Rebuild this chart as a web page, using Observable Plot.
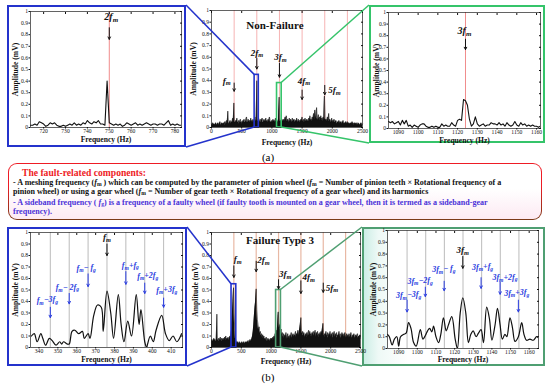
<!DOCTYPE html>
<html><head><meta charset="utf-8">
<script src="https://cdn.jsdelivr.net/npm/d3@7"></script>
<script src="https://cdn.jsdelivr.net/npm/@observablehq/plot@0.6"></script>
<style>
body{margin:0;background:#fff;}
#page{position:relative;width:550px;height:387px;overflow:hidden;font-family:"Liberation Serif","Times New Roman",serif;}
.box{position:absolute;box-sizing:border-box;}
.cap{position:absolute;font-size:11px;width:40px;text-align:center;line-height:12px;}
#note{position:absolute;left:8px;top:163px;width:534px;height:57px;box-sizing:border-box;border:1.6px solid transparent;border-radius:9px;
 background:linear-gradient(#ffffff,#ffffff 45%,#fdeaf3) padding-box, linear-gradient(#ee1c25,#ee1c25 40%,#7a3a18) border-box;}
.ln{position:absolute;white-space:nowrap;font-weight:bold;font-size:8.05px;line-height:10px;left:4px;color:#111;}
.ln sub{font-size:70%;vertical-align:-0.25em;line-height:0;}
.bl{color:#4b32d8;}
.rd{color:#ee1c25;font-size:9.6px;left:13px;}
</style></head><body><div id="page"></div>
<script>
// ---------- data ----------
const ampTicks = [0, 0.1, 0.2, 0.3, 0.4, 0.5, 0.6, 0.7, 0.8, 0.9, 1];
const midTicks = [0, 500, 1000, 1500, 2000, 2500];
const fmHarmonics = [375, 750, 1125, 1500, 1875, 2250];

// Non-failure full spectrum, 10 Hz bins from 0 Hz
const topMidStep = 10;
const topMidAmp = [
 .03,.02,.04,.02,.03,.03,.02,.04,.03,.02,
 .03,.04,.02,.03,.05,.03,.02,.04,.03,.03,
 .04,.03,.05,.02,.04,.06,.03,.14,.05,.03,
 .04,.06,.03,.05,.04,.08,.04,.21,.05,.04,
 .06,.04,.08,.05,.04,.06,.03,.05,.07,.04,
 .05,.03,.06,.04,.07,.05,.04,.06,.09,.05,
 .04,.07,.05,.06,.04,.08,.05,.06,.04,.07,
 .05,.06,.09,.05,.07,.40,.06,.05,.08,.04,
 .05,.07,.04,.06,.08,.05,.04,.07,.05,.06,
 .08,.05,.06,.04,.07,.05,.09,.06,.04,.05,
 .06,.04,.07,.05,.06,.04,.08,.05,.06,.04,
 .05,.07,.26,.08,.05,.06,.04,.07,.05,.06,
 .07,.05,.09,.06,.10,.05,.07,.06,.04,.08,
 .05,.07,.06,.04,.08,.05,.06,.07,.04,.06,
 .05,.08,.06,.04,.07,.05,.06,.04,.07,.05,
 .09,.05,.06,.07,.04,.08,.05,.06,.07,.05,
 .06,.08,.05,.10,.06,.07,.05,.09,.06,.12,
 .08,.15,.07,.10,.17,.08,.06,.11,.07,.09,
 .06,.10,.07,.08,.05,.09,.06,.27,.08,.06,
 .07,.05,.09,.06,.12,.05,.07,.06,.04,.08,
 .05,.06,.04,.07,.05,.04,.06,.05,.03,.05,
 .04,.06,.03,.05,.04,.05,.03,.04,.06,.03,
 .04,.03,.05,.04,.03,.05,.04,.03,.04,.03,
 .03,.04,.03,.05,.03,.04,.02,.04,.03,.03,
 .04,.03,.02,.04,.03,.03,.02,.03,.04,.02,
 .03];

// Failure type 3 full spectrum, 10 Hz bins from 0 Hz
const botMidStep = 10;
const botMidAmp = [
 .05,.07,.06,.05,.08,.06,.07,.05,.06,.29,
 .07,.06,.08,.05,.07,.09,.06,.08,.05,.07,
 .08,.06,.09,.07,.10,.06,.08,.07,.09,.06,
 .08,.10,.07,.12,.18,.28,.40,.52,.30,.15,
 .08,.06,.05,.04,.05,.04,.03,.05,.04,.03,
 .04,.05,.03,.04,.05,.04,.03,.05,.04,.05,
 .04,.05,.06,.04,.05,.07,.05,.06,.08,.10,
 .14,.20,.28,.35,.40,.51,.33,.24,.20,.15,
 .18,.12,.14,.10,.12,.09,.11,.08,.10,.07,
 .08,.06,.09,.07,.05,.08,.06,.07,.05,.08,
 .06,.08,.07,.09,.06,.10,.08,.12,.10,.15,
 .12,.20,.31,.22,.17,.20,.14,.16,.11,.13,
 .09,.12,.08,.11,.09,.13,.07,.10,.12,.08,
 .10,.07,.11,.09,.13,.08,.10,.12,.09,.11,
 .10,.14,.09,.12,.11,.15,.10,.13,.16,.20,
 .26,.15,.12,.14,.10,.13,.11,.09,.12,.10,
 .13,.09,.12,.15,.10,.14,.11,.12,.09,.13,
 .11,.14,.10,.12,.15,.09,.13,.11,.14,.10,
 .12,.09,.13,.10,.14,.12,.16,.21,.13,.10,
 .12,.09,.14,.11,.10,.13,.08,.12,.10,.14,
 .09,.12,.10,.13,.08,.11,.14,.09,.12,.10,
 .13,.08,.11,.10,.14,.09,.12,.10,.08,.13,
 .10,.12,.09,.11,.13,.08,.10,.12,.09,.11,
 .08,.12,.10,.09,.13,.10,.08,.11,.09,.12,
 .10,.08,.11,.09,.10,.12,.08,.10,.09,.11,
 .08];

// Zoom around 2fm (non-failure), 1 Hz bins from 714 Hz
const topLeftStart = 714;
const topLeftAmp = [
 .02,.02,.03,.02,.05,.04,.03,.01,.02,.04,
 .03,.04,.02,.01,.01,.02,.01,.02,.03,.02,
 .04,.02,.03,.02,.04,.03,.06,.04,.03,.05,
 .04,.06,.03,.03,.02,.40,.04,.03,.02,.03,
 .02,.03,.01,.02,.04,.03,.02,.03,.04,.02,
 .03,.02,.03,.04,.03,.02,.03,.03,.02,.03,
 .03,.02,.04,.06,.02,.03,.02,.03,.02,.02];
const topLeftTicks = [720, 730, 740, 750, 760, 770, 780];

// Zoom around 3fm (non-failure), 1 Hz bins from 1085 Hz
const topRightStart = 1085;
const topRightAmp = [
 .06,.05,.06,.04,.05,.06,.03,.07,.04,.07,
 .02,.03,.01,.03,.02,.01,.03,.04,.04,.02,
 .01,.01,.02,.01,.02,.01,.01,.04,.02,.03,
 .02,.02,.05,.03,.02,.07,.08,.07,.25,.24,
 .20,.08,.02,.04,.10,.04,.02,.03,.04,.02,
 .03,.03,.05,.04,.04,.03,.05,.03,.04,.02,
 .05,.03,.02,.03,.06,.03,.02,.05,.03,.04,
 .02,.03,.02,.03,.02,.02,.01,.02];
const zoomTicks3 = [1090, 1100, 1110, 1120, 1130, 1140, 1150, 1160];

// Zoom around fm (failure type 3)
const botLeftFreq = [336,337.5,339,341,342,343.5,345.5,347,349,351,352,353,355,356,357.5,359,361,363,364,366,367,369,371,373,374,376,378,379.5,382,383.5,385,387,389,391.5,393,394,396,397,397.5,399,400.5,402,405,407,409,411,413,415.5];
const botLeftAmp  = [.10,.12,.05,.12,.08,.02,.08,.06,.02,.05,.03,.05,.03,.03,.14,.15,.12,.14,.08,.12,.08,.28,.37,.35,.14,.49,.30,.08,.46,.20,.05,.23,.10,.46,.20,.33,.05,.00,.03,.10,.05,.15,.28,.12,.06,.10,.05,.12];
const botLeftTicks = [340, 350, 360, 370, 380, 390, 400, 410];
const botLeftSidebands = [346, 356, 366, 376, 386, 396, 406];

// Zoom around 3fm (failure type 3)
const botRightFreq = [1084,1085,1086.5,1087.7,1089,1090,1091,1092.7,1094,1095.3,1096.6,1098,1099.4,1101.6,1103,1104.3,1105.5,1106.6,1107.8,1108.7,1110,1111.4,1112.6,1114,1115.5,1116.7,1118.5,1120.3,1121.5,1123,1124.4,1126,1127.4,1128.7,1130,1131.5,1132.8,1134.2,1135.5,1137.2,1138.7,1140,1141.7,1143,1144.4,1145.6,1147,1148,1149.7,1151,1152.4,1154.2,1156,1157.2,1158.6,1160.4,1162.2,1164,1165];
const botRightAmp  = [.12,.10,.03,.08,.10,.02,.10,.12,.13,.22,.17,.05,.02,.16,.08,.11,.15,.17,.14,.19,.10,.05,.12,.26,.15,.20,.27,.08,.00,.30,.43,.30,.05,.12,.15,.10,.13,.16,.05,.35,.25,.07,.20,.34,.20,.08,.12,.10,.26,.18,.06,.10,.22,.12,.07,.08,.07,.10,.09];
const botRightSidebands = [1094.5, 1104.5, 1114.5, 1124.5, 1134.5, 1144.5, 1154.5];

// zoom windows shown on the full spectra [x1, x2, top]
const topBlueWin = [714, 783, 0.45];
const topGreenWin = [1085, 1162, 0.38];
const botBlueWin = [336, 416, 0.55];
const botGreenWin = [1084, 1165, 0.50];

// annotations
const topMidLab = ["f_m", "2f_m", "3f_m", "4f_m", "5f_m"];
const topMidLabX = [253, 752, 1140, 1530, 2035];
const topMidLabY = [0.40, 0.64, 0.60, 0.40, 0.32];
const topMidArrX = [375, 750, 1125, 1500, 1875];
const topMidArrY1 = [0.38, 0.59, 0.55, 0.32, 0.36];
const topMidArrY2 = [0.31, 0.50, 0.43, 0.24, 0.28];

const botMidLab = ["f_m", "2f_m", "3f_m", "4f_m", "5f_m"];
const botMidLabX = [440, 871, 1236, 1630, 2023];
const botMidLabY = [0.77, 0.76, 0.64, 0.61, 0.52];
const botMidArrX = [375, 750, 1125, 1500, 1875];
const botMidArrY1 = [0.71, 0.75, 0.59, 0.58, 0.56];
const botMidArrY2 = [0.61, 0.66, 0.51, 0.47, 0.48];

const blLabBlack = ["f_m"];
const blLabBlackX = [376]; const blLabBlackY = [0.96];
const blArrBlackY = [0.90, 0.80];
const blLab = ["f_m−3f_g", "f_m− 2f_g", "f_m− f_g", "f_m+f_g", "f_m+2f_g", "f_m+3f_g"];
const blLabX = [344.4, 355, 365, 388.4, 397.6, 407.7];
const blLabY = [0.41, 0.52, 0.69, 0.71, 0.62, 0.50];
const blArrX = [346, 356, 366, 386, 396, 406];
const blArrY1 = [0.35, 0.47, 0.64, 0.66, 0.56, 0.43];
const blArrY2 = [0.26, 0.38, 0.53, 0.55, 0.47, 0.35];

const brLabBlack = ["3f_m"];
const brLabBlackX = [1124.4]; const brLabBlackY = [0.83];
const brArrBlackY = [0.78, 0.68];
const brLab = ["3f_m−3f_g", "3f_m−2f_g", "3f_m− f_g", "3f_m+f_g", "3f_m+2f_g", "3f_m+3f_g"];
const brLabX = [1095.3, 1101.5, 1114.2, 1135, 1147, 1153.3];
const brLabY = [0.45, 0.57, 0.67, 0.69, 0.60, 0.47];
const brArrX = [1094.5, 1104.3, 1114.4, 1134.2, 1144.4, 1154.2];
const brArrY1 = [0.41, 0.52, 0.57, 0.60, 0.56, 0.41];
const brArrY2 = [0.31, 0.44, 0.49, 0.51, 0.46, 0.31];

// ---------- colours ----------
const BLUE = "#2433cc", GREEN = "#35c46a", GREEN2 = "#4f9f72", ABLUE = "#2a3de0";

// ---------- helpers ----------
const page = document.getElementById("page");
function box(l, t, w, h, border, bg) {
  const d = document.createElement("div");
  d.className = "box";
  Object.assign(d.style, {left: l + "px", top: t + "px", width: w + "px", height: h + "px", border: "2px solid " + border, background: bg || "transparent"});
  page.appendChild(d);
}
function put(svg, l, t) {
  svg.style.position = "absolute"; svg.style.left = l + "px"; svg.style.top = t + "px";
  page.appendChild(svg);
  subify(svg);
  return svg;
}
function subify(svg) {
  const els = [...svg.querySelectorAll("text, tspan")].filter(e => e.children.length === 0 && e.textContent.includes("_"));
  for (const el of els) {
    const parts = el.textContent.split(/(_\w)/).filter(p => p.length);
    el.textContent = "";
    let shifted = false;
    for (const p of parts) {
      const ts = document.createElementNS("http://www.w3.org/2000/svg", "tspan");
      if (p[0] === "_") {
        ts.textContent = p.slice(1);
        ts.setAttribute("font-size", "70%");
        ts.setAttribute("dy", "0.3em");
        shifted = true;
      } else {
        ts.textContent = p;
        if (shifted) { ts.setAttribute("dy", "-0.3em"); shifted = false; }
      }
      el.appendChild(ts);
    }
  }
}
function annots(lab, lx, ly, ax, ay1, ay2, color, fs) {
  const L = lab.map((t, i) => ({t, x: lx[i], y: ly[i]}));
  const A = ax.map((x, i) => ({x, y1: ay1[i], y2: ay2[i]}));
  return [
    Plot.arrow(A, {x1: "x", x2: "x", y1: "y1", y2: "y2", stroke: color, strokeWidth: 1, headLength: 4, headAngle: 55}),
    Plot.text(L, {x: "x", y: "y", text: "t", fill: color, fontSize: fs, fontStyle: "italic", fontWeight: "bold"})
  ];
}
function panel(o) {
  return Plot.plot({
    width: o.w, height: o.h, marginLeft: o.ml, marginRight: o.mr, marginTop: o.mt, marginBottom: o.mb,
    x: {domain: o.xd}, y: {domain: [0, 1]},
    style: {fontFamily: "Liberation Serif, serif", fontSize: "5.6px", background: "transparent", overflow: "visible", color: "#111"},
    marks: [
      Plot.frame({fill: "white", stroke: null}),
      ...o.marks,
      Plot.frame({stroke: "#222", strokeWidth: 0.7}),
      Plot.axisX({ticks: o.xt, tickSize: 1.5, tickPadding: 0.5, label: null, tickFormat: d => String(d)}),
      Plot.axisX({ticks: o.xt, anchor: "top", tickSize: -2, label: null, tickFormat: () => ""}),
      Plot.axisY({ticks: ampTicks, tickSize: 1.5, tickPadding: 1, label: null, tickFormat: d => String(d)}),
      Plot.axisY({ticks: ampTicks, anchor: "right", tickSize: -2, label: null, tickFormat: () => ""}),
      Plot.text(["Frequency (Hz)"], {frameAnchor: "bottom", lineAnchor: "middle", textAnchor: "middle", dy: o.xl, fontWeight: "bold", fontSize: 7.6}),
      Plot.text(["Amplitude (mV)"], {frameAnchor: "left", lineAnchor: "middle", textAnchor: "middle", dx: o.yl, rotate: -90, fontWeight: "bold", fontSize: 7.6})
    ]
  });
}
function winRect(win, color) {
  return Plot.rect([win], {x1: d => d[0], x2: d => d[1], y1: 0, y2: d => d[2], stroke: color, strokeWidth: 1.6, fill: "none"});
}

// ---------- tables ----------
const topMid = topMidAmp.map((a, i) => ({f: i * topMidStep, a}));
const botMid = botMidAmp.map((a, i) => ({f: i * botMidStep, a}));
const topLeft = topLeftAmp.map((a, i) => ({f: topLeftStart + i, a}));
const topRight = topRightAmp.map((a, i) => ({f: topRightStart + i, a}));
const botLeft = botLeftFreq.map((f, i) => ({f, a: botLeftAmp[i]}));
const botRight = botRightFreq.map((f, i) => ({f, a: botRightAmp[i]}));

// ---------- boxes ----------
box(7, 5, 179, 142, BLUE);
box(369, 5, 176, 138, GREEN);
box(7, 227, 180, 139, BLUE);
box(362, 227, 183, 139, GREEN2, "linear-gradient(to right,#cdeee6 0%,#eef9f6 8%,#ffffff 25%)");

// ---------- top row ----------
const pTL = put(panel({w: 179, h: 142, ml: 23, mr: 5, mt: 6, mb: 20, xd: [714, 783], xt: topLeftTicks, xl: 12.5, yl: -15,
  marks: [
    Plot.ruleX([fmHarmonics[1]], {stroke: "#f08c8c", strokeWidth: 1}),
    Plot.lineY(topLeft, {x: "f", y: "a", stroke: "#111", strokeWidth: 1.1, clip: true}),
    ...annots(["2f_m"], [750.9], [0.955], [750], [0.86], [0.76], "#111", 10)
  ]}), 7, 5);

const pTM = put(panel({w: 180, h: 147, ml: 23, mr: 6, mt: 10, mb: 20, xd: [0, 2500], xt: midTicks, xl: 15, yl: -18,
  marks: [
    Plot.ruleX(fmHarmonics, {stroke: "#f6b3b3", strokeWidth: 1}),
    Plot.areaY(topMid, {x: "f", y: "a", fill: "#111"}),
    Plot.lineY(topMid, {x: "f", y: "a", stroke: "#111", strokeWidth: 0.6}),
    winRect(topBlueWin, BLUE),
    winRect(topGreenWin, GREEN),
    Plot.text(["Non-Failure"], {x: 1050, y: 0.872, fontWeight: "bold", fontSize: 11}),
    ...annots(topMidLab, topMidLabX, topMidLabY, topMidArrX, topMidArrY1, topMidArrY2, "#111", 9)
  ]}), 188, 0);

const pTR = put(panel({w: 176, h: 138, ml: 19, mr: 5, mt: 7, mb: 15, xd: [1085, 1162], xt: zoomTicks3, xl: 12, yl: -11.5,
  marks: [
    Plot.ruleX([1124], {stroke: "#f08c8c", strokeWidth: 1}),
    Plot.lineY(topRight, {x: "f", y: "a", stroke: "#111", strokeWidth: 1.1, clip: true}),
    ...annots(["3f_m"], [1123.5], [0.845], [1124], [0.77], [0.68], "#111", 10)
  ]}), 369, 5);

// ---------- bottom row ----------
const pBL = put(panel({w: 180, h: 139, ml: 23, mr: 5, mt: 5, mb: 19, xd: [335.5, 416], xt: botLeftTicks, xl: 12, yl: -15,
  marks: [
    Plot.ruleX(botLeftSidebands, {stroke: "#aaa", strokeWidth: 0.8}),
    Plot.lineY(botLeft, {x: "f", y: "a", stroke: "#111", strokeWidth: 1.2, curve: "catmull-rom", clip: true}),
    ...annots(blLabBlack, blLabBlackX, blLabBlackY, [376], [blArrBlackY[0]], [blArrBlackY[1]], "#111", 9),
    ...annots(blLab, blLabX, blLabY, blArrX, blArrY1, blArrY2, ABLUE, 8)
  ]}), 7, 227);

const pBM = put(panel({w: 180, h: 140, ml: 23, mr: 8, mt: 5, mb: 20, xd: [0, 2500], xt: midTicks, xl: 14, yl: -16,
  marks: [
    Plot.ruleX(fmHarmonics, {stroke: "#e8b8a4", strokeWidth: 1.2}),
    Plot.areaY(botMid, {x: "f", y: "a", fill: "#111"}),
    Plot.lineY(botMid, {x: "f", y: "a", stroke: "#111", strokeWidth: 0.6}),
    winRect(botBlueWin, BLUE),
    winRect(botGreenWin, GREEN2),
    Plot.text(["Failure Type 3"], {x: 1150, y: 0.93, fontWeight: "bold", fontSize: 11}),
    ...annots(botMidLab, botMidLabX, botMidLabY, botMidArrX, botMidArrY1, botMidArrY2, "#111", 9)
  ]}), 188, 227);

const pBR = put(panel({w: 182, h: 139, ml: 24, mr: 7, mt: 3, mb: 18, xd: [1084, 1165], xt: zoomTicks3, xl: 11.5, yl: -14,
  marks: [
    Plot.ruleX(botRightSidebands, {stroke: "#aaa", strokeWidth: 0.8}),
    Plot.lineY(botRight, {x: "f", y: "a", stroke: "#111", strokeWidth: 1.2, curve: "catmull-rom", clip: true}),
    ...annots(brLabBlack, brLabBlackX, brLabBlackY, [1124.4], [brArrBlackY[0]], [brArrBlackY[1]], "#111", 9),
    ...annots(brLab, brLabX, brLabY, brArrX, brArrY1, brArrY2, ABLUE, 8)
  ]}), 363, 227);

// ---------- connectors (computed from the plot scales) ----------
const ov = d3.create("svg").attr("width", 550).attr("height", 387)
  .style("position", "absolute").style("left", "0px").style("top", "0px").style("pointer-events", "none");
function conn(plot, left, top, win, side, color, boxX, boxTop, boxBot) {
  const sx = plot.scale("x"), sy = plot.scale("y");
  const x = left + sx.apply(side === "l" ? win[0] : win[1]);
  ov.append("line").attr("x1", boxX).attr("y1", boxTop).attr("x2", x).attr("y2", top + sy.apply(win[2])).attr("stroke", color).attr("stroke-width", 1.5);
  ov.append("line").attr("x1", boxX).attr("y1", boxBot).attr("x2", x).attr("y2", top + sy.apply(0)).attr("stroke", color).attr("stroke-width", 1.5);
}
conn(pTM, 188, 0, topBlueWin, "l", BLUE, 186, 5, 147);
conn(pTM, 188, 0, topGreenWin, "r", GREEN, 369, 5, 143);
conn(pBM, 188, 227, botBlueWin, "l", BLUE, 187, 227, 366);
conn(pBM, 188, 227, botGreenWin, "r", GREEN2, 362, 227, 366);
page.appendChild(ov.node());

// ---------- captions & note ----------
function cap(t, x, y) {
  const d = document.createElement("div"); d.className = "cap"; d.textContent = t;
  d.style.left = (x - 20) + "px"; d.style.top = (y - 6) + "px"; page.appendChild(d);
}
cap("(a)", 268, 157);
cap("(b)", 268, 377);

const note = document.createElement("div");
note.id = "note";
note.innerHTML =
 '<div class="ln rd" style="top:4px">The fault-related components:</div>' +
 '<div class="ln" style="top:14px">- A meshing frequency (<i>f</i><sub>m</sub> ) which can be computed by the parameter of pinion wheel (<i>f</i><sub>m</sub> = Number of pinion teeth × Rotational frequency of a</div>' +
 '<div class="ln" style="top:23px">pinion wheel) or using a gear wheel (<i>f</i><sub>m</sub> = Number of gear teeth × Rotational frequency of a gear wheel) and its harmonics</div>' +
 '<div class="ln bl" style="top:34px">- A sideband frequency ( <i>f</i><sub>g</sub>) is a frequency of a faulty wheel (if faulty tooth is mounted on a gear wheel, then it is termed as a sideband-gear</div>' +
 '<div class="ln bl" style="top:43px">frequency).</div>';
page.appendChild(note);
</script></body></html>
